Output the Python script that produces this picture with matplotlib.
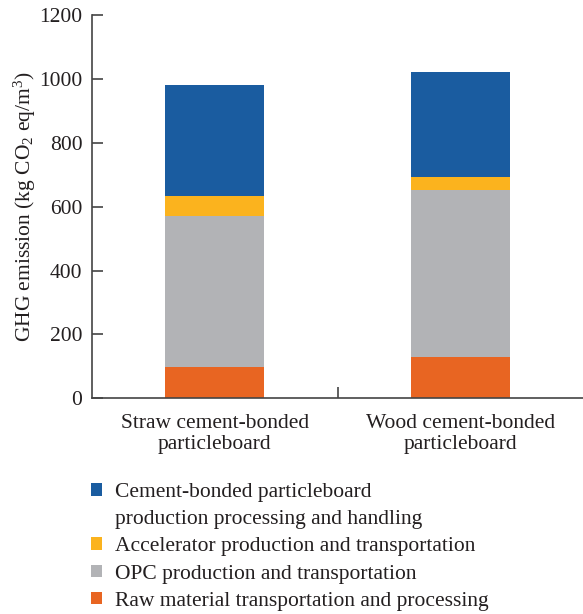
import matplotlib
matplotlib.use('Agg')
import matplotlib.pyplot as plt
from matplotlib.patches import Patch
import numpy as np

plt.rcParams['font.family'] = ['Liberation Serif', 'DejaVu Serif']
plt.rcParams['mathtext.fontset'] = 'custom'
plt.rcParams['mathtext.rm'] = 'Liberation Serif'
plt.rcParams['mathtext.it'] = 'Liberation Serif:italic'

# data
boards = ['Straw cement-bonded\nparticleboard', 'Wood cement-bonded\nparticleboard']
raw_material = [98, 130]
opc = [474, 524]
accelerator = [62, 39]
production = [347, 329]

stages = ['Raw material transportation and processing',
          'OPC production and transportation',
          'Accelerator production and transportation',
          'Cement-bonded particleboard']
colors = ['#e86522', '#b2b3b6', '#fbb31e', '#1a5ca0']
txt = '#231f20'
fs = 15.5

fig = plt.figure(figsize=(5.83, 6.14), dpi=100)
ax = fig.add_axes([92/583, (614-398.3)/614, 491/583, 383/614])

x = np.arange(len(boards))
bottom = np.zeros(len(boards))
handles = []
for vals, c, lab in zip([raw_material, opc, accelerator, production], colors, stages):
    b = ax.bar(x, vals, 0.405, bottom=bottom, color=c, label=lab)
    handles.append(b)
    bottom += np.array(vals)

ax.set_xlim(-0.5, 1.5)
ax.set_ylim(0, 1200)
ax.set_yticks(range(0, 1201, 200))
ax.set_xticks(x)
ax.set_xticklabels(boards, fontsize=fs, color=txt, linespacing=1.2)
ax.set_xticks([0.5], minor=True)
ax.tick_params(axis='x', which='major', length=0, pad=11)
ax.tick_params(axis='x', which='minor', direction='in', length=8, width=1.2, color='#444444')
ax.tick_params(axis='y', direction='in', length=8, width=1.2, color='#444444', labelsize=fs, labelcolor=txt, pad=7)
for s in ['top', 'right']:
    ax.spines[s].set_visible(False)
for s in ['left', 'bottom']:
    ax.spines[s].set_color('#444444')
    ax.spines[s].set_linewidth(1.2)

ax.set_ylabel('GHG emission (kg CO$_2$ eq/m$^3$)', fontsize=fs, color=txt, labelpad=1)

# legend: blue entry wraps onto a second line
leg_handles = [handles[3], Patch(visible=False), handles[2], handles[1], handles[0]]
leg_labels = [stages[3], 'production processing and handling', stages[2], stages[1], stages[0]]
fig.legend(leg_handles, leg_labels, loc='upper left', bbox_to_anchor=(91/583, 1-483/614),
           frameon=False, fontsize=fs, handlelength=0.52, handleheight=0.52, borderpad=0,
           borderaxespad=0, handletextpad=0.6, labelspacing=0.38, labelcolor=txt)

fig.savefig('out.png', dpi=100)
